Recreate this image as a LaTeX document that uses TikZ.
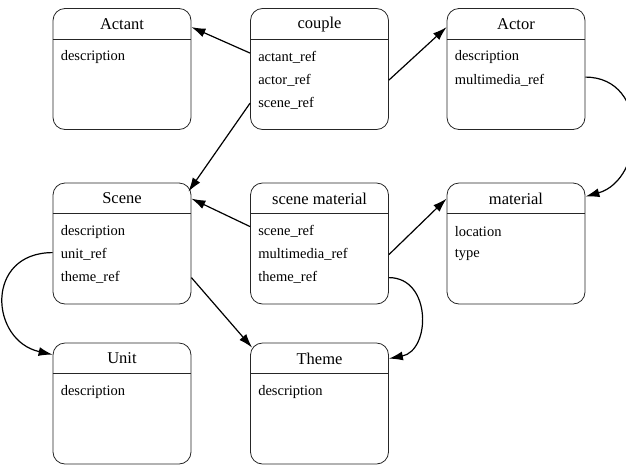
\documentclass[tikz,border=0pt]{standalone}
\usepackage{fontspec}
\setmainfont{Liberation Serif}
\usetikzlibrary{arrows.meta,calc}

\def\boxw{138pt}
\def\boxh{121pt}

\begin{document}
\begin{tikzpicture}[x=1pt,y=-1pt]
    \tikzstyle{table} = [draw=black!85, line width=0.8pt, rounded corners=12pt, minimum width=\boxw, minimum height=\boxh, inner sep=0pt]
    \tikzstyle{title} = [inner sep=0pt, font=\fontsize{16.5}{16.5}\selectfont]
    \tikzstyle{field} = [anchor=west, inner sep=0pt, font=\fontsize{14.5}{14.5}\selectfont]
    \tikzstyle{link}  = [draw=black, line width=1.2pt, -{Latex[length=14pt,width=9pt]}]

    \useasboundingbox (0,0) rectangle (626,464);

    %%% DRAW THE TABLES
    \foreach \name / \x / \y / \title in {Actant/122/69/Actant, couple/319.5/69/couple, Actor/516/69/Actor,
                                           Scene/122/243.5/Scene, smat/319.5/243.5/scene material, material/516/243.5/material,
                                           Unit/122/403.5/Unit, Theme/319.5/403.5/Theme}
    {
        \node[table] (\name) at (\x,\y) {};
        \node[title] (\name-t) at ($(\name.north)+(0,16)$) {\title};
        \draw[draw=black!85, line width=0.8pt] ($(\name.north west)+(0,31)$) -- ($(\name.north east)+(0,31)$);
    }

    %%% DRAW THE FIELDS
    \foreach \name / \list in {Actant/{description}, couple/{actant\_ref,actor\_ref,scene\_ref},
                               Actor/{description,multimedia\_ref}, Scene/{description,unit\_ref,theme\_ref},
                               smat/{scene\_ref,multimedia\_ref,theme\_ref}, material/{location,type},
                               Unit/{description}, Theme/{description}}
        \foreach \f [count=\i] in \list
            \node[field] (\name-\i) at ($(\name.north west)+(8,26+23*\i)$) {\f};

    %%% DRAW THE LINKS
    \draw[link] ($(couple-1 -| couple.west)+(0,-4)$) -- ($(Actant-t -| Actant.east)+(0,3)$);
    \draw[link] (couple-2 -| couple.east) -- ($(Actor-t -| Actor.west)+(0,3)$);
    \draw[link] (couple-3 -| couple.west) -- ($(Scene.north east)+(-3,9)$);
    \draw[link] ($(Actor-2 -| Actor.east)+(0,-3)$) .. controls +(65,0) and +(60,-17) .. ($(material-t -| material.east)+(0,-2)$);

    \draw[link] ($(smat-1 -| smat.west)+(0,-5)$) -- (Scene-t -| Scene.east);
    \draw[link] (smat-2 -| smat.east) -- (material-t -| material.west);
    \draw[link] (smat-3 -| smat.east) .. controls +(43,0) and +(42,-8) .. (Theme-t -| Theme.east);

    \draw[link] ($(Scene-2 -| Scene.west)+(0,-2)$) .. controls +(-68,0) and +(-63,-14) .. ($(Unit-t -| Unit.west)+(0,-4)$);
    \draw[link] (Scene-3 -| Scene.east) -- ($(Theme.north west)+(2,5)$);

\end{tikzpicture}
\end{document}
